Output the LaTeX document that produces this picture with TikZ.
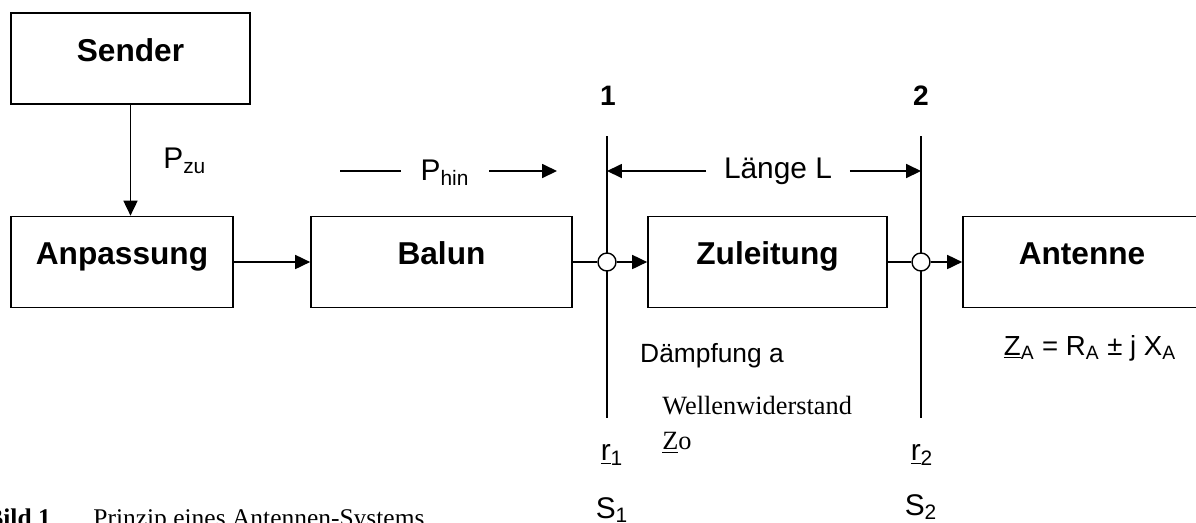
\documentclass[tikz,border=0pt]{standalone}
\usepackage{fontspec}
\setmainfont{Liberation Sans}
\newfontfamily\timesrm{Liberation Serif}
\usetikzlibrary{arrows.meta}

\begin{document}
\begin{tikzpicture}[x=0.02cm, y=-0.02cm,
    block/.style={draw=black, line width=1pt, minimum width=4.78cm,
        minimum height=1.82cm, inner sep=0pt,
        font=\fontsize{18}{21}\selectfont\bfseries,
        text height=0.72em, text depth=0.4em},
    junction/.style={circle, draw=black, fill=white, line width=0.8pt,
        minimum size=0.36cm, inner sep=0pt},
    signal/.style={line width=0.8pt, -{Triangle[length=8.5pt, width=8pt]}},
    wire/.style={line width=0.8pt},
    lbl/.style={font=\fontsize{17}{20}\selectfont, inner sep=0pt},
    serif/.style={font=\fontsize{15}{18}\selectfont\timesrm, inner sep=0pt}
]
    \useasboundingbox (0,0) rectangle (1196,522);

    % blocks
    \node[block] (sender) at (130.5,58.5) {Sender};
    \node[block, minimum width=4.44cm] (anpassung) at (122,262) {Anpassung};
    \node[block, minimum width=5.22cm] (balun) at (441.5,262) {Balun};
    \node[block] (zuleitung) at (767.5,262) {Zuleitung};
    \node[block, minimum width=4.76cm] (antenne) at (1082,262) {Antenne};

    % reference planes 1 and 2
    \coordinate (top1) at (607,136);
    \coordinate (bot1) at (607,418);
    \coordinate (top2) at (921,136);
    \coordinate (bot2) at (921,418);
    \draw[wire] (top1) -- (bot1);
    \draw[wire] (top2) -- (bot2);
    \node[junction] (j1) at (607,262) {};
    \node[junction] (j2) at (921,262) {};

    \draw[signal] (sender) -- (sender |- anpassung.north);
    \draw[signal] (anpassung) -- (balun);
    \draw[wire] (balun) -- (j1);
    \draw[signal] (j1) -- (zuleitung);
    \draw[wire] (zuleitung) -- (j2);
    \draw[signal] (j2) -- (antenne);

    % labels
    \node[lbl, font=\fontsize{16}{19}\selectfont\bfseries] (n1) at (608,96) {1};
    \node[lbl, font=\fontsize{16}{19}\selectfont\bfseries] (n2) at (921,96) {2};
    \node[lbl, anchor=west] (pzu) at (163,161) {P\textsubscript{zu}};

    \coordinate (hinA) at (340,171);
    \coordinate (hinB) at (557,171);
    \node[lbl, inner xsep=11pt] (phin) at (445,173) {P\textsubscript{hin}};
    \draw[wire] (hinA) -- (hinA -| phin.west);
    \draw[signal] (hinB -| phin.east) -- (hinB);

    \coordinate (len1) at (607,171);
    \coordinate (len2) at (921,171);
    \node[lbl, inner xsep=10pt] (laenge) at (778,171) {Länge L};
    \draw[signal] (laenge) -- (len1);
    \draw[signal] (laenge) -- (len2);

    \node[lbl, font=\fontsize{15}{18}\selectfont] (daempfung) at (712,356) {Dämpfung a};
    \node[serif, anchor=west] (wellen) at (662,406) {Wellenwiderstand};
    \node[serif, anchor=west] (zo) at (662,443) {\underline{Z}o};
    \node[lbl] (r1) at (612,455) {\underline{r}\textsubscript{1}};
    \node[lbl] (r2) at (922,455) {\underline{r}\textsubscript{2}};
    \node[lbl] (s1) at (612,510) {S\textsubscript{1}};
    \node[lbl] (s2) at (921,507) {S\textsubscript{2}};
    \node[lbl, font=\fontsize{15.7}{19}\selectfont] (za) at (1090,348)
        {\underline{Z}\textsubscript{A} = R\textsubscript{A} ± j X\textsubscript{A}};

    % caption, cut by the page edge
    \node[serif, font=\fontsize{14.5}{17}\selectfont\timesrm\bfseries,
        anchor=base west] (capnum) at (-14,526) {Bild 1};
    \node[serif, font=\fontsize{14.5}{17}\selectfont\timesrm,
        anchor=base west] (captext) at (93,526) {Prinzip eines Antennen-Systems};
\end{tikzpicture}
\end{document}
